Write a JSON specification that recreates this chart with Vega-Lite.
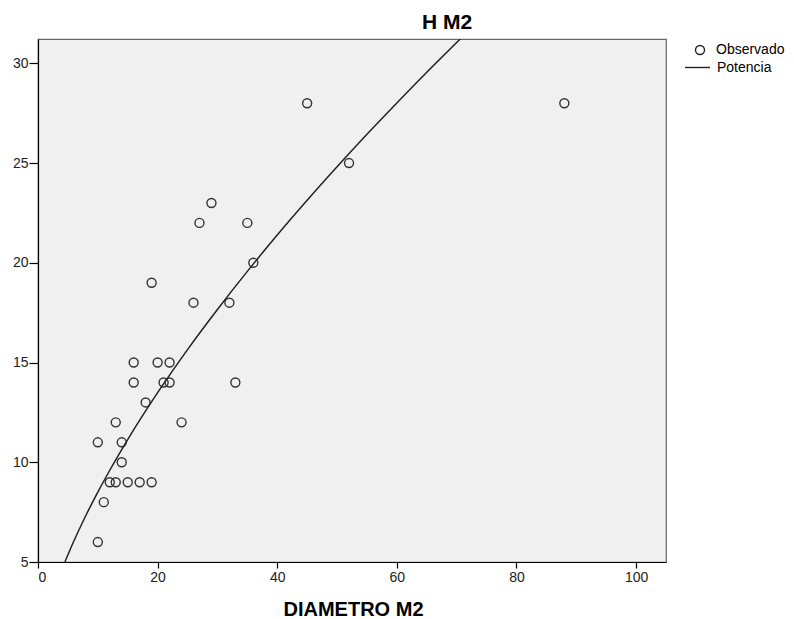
{
  "$schema": "https://vega.github.io/schema/vega-lite/v6.json",
  "width": 628,
  "height": 523,
  "autosize": "none",
  "padding": {"left": 38, "top": 39, "right": 128, "bottom": 57},
  "background": "white",
  "config": {
    "font": "Liberation Sans",
    "view": {"fill": "#f0f0f0", "stroke": "#666", "strokeWidth": 1.2},
    "axis": {"grid": false, "domainColor": "#000", "domainWidth": 1.2, "tickColor": "#000", "tickWidth": 1.2, "labelFontSize": 14, "labelColor": "#222", "labelFont": "Liberation Sans", "labelFontWeight": "normal"},
    "legend": {"padding": 0, "labelFontSize": 14, "labelColor": "#000", "labelFont": "Liberation Sans"}
  },
  "title": {"text": "H M2", "fontSize": 21, "fontWeight": "bold", "font": "Liberation Sans", "color": "#000", "anchor": "middle", "dx": 95, "offset": 6},
  "layer": [
    {
      "data": {"values": [
        {"d": 10, "h": 6, "serie": "Observado"},
        {"d": 11, "h": 8, "serie": "Observado"},
        {"d": 12, "h": 9, "serie": "Observado"},
        {"d": 13, "h": 9, "serie": "Observado"},
        {"d": 15, "h": 9, "serie": "Observado"},
        {"d": 17, "h": 9, "serie": "Observado"},
        {"d": 19, "h": 9, "serie": "Observado"},
        {"d": 14, "h": 10, "serie": "Observado"},
        {"d": 10, "h": 11, "serie": "Observado"},
        {"d": 14, "h": 11, "serie": "Observado"},
        {"d": 13, "h": 12, "serie": "Observado"},
        {"d": 24, "h": 12, "serie": "Observado"},
        {"d": 18, "h": 13, "serie": "Observado"},
        {"d": 16, "h": 14, "serie": "Observado"},
        {"d": 21, "h": 14, "serie": "Observado"},
        {"d": 22, "h": 14, "serie": "Observado"},
        {"d": 33, "h": 14, "serie": "Observado"},
        {"d": 16, "h": 15, "serie": "Observado"},
        {"d": 20, "h": 15, "serie": "Observado"},
        {"d": 22, "h": 15, "serie": "Observado"},
        {"d": 26, "h": 18, "serie": "Observado"},
        {"d": 32, "h": 18, "serie": "Observado"},
        {"d": 19, "h": 19, "serie": "Observado"},
        {"d": 36, "h": 20, "serie": "Observado"},
        {"d": 27, "h": 22, "serie": "Observado"},
        {"d": 35, "h": 22, "serie": "Observado"},
        {"d": 29, "h": 23, "serie": "Observado"},
        {"d": 52, "h": 25, "serie": "Observado"},
        {"d": 45, "h": 28, "serie": "Observado"},
        {"d": 88, "h": 28, "serie": "Observado"}
      ]},
      "mark": {"type": "point", "filled": false, "stroke": "#333", "strokeWidth": 1.4, "opacity": 1, "size": 81},
      "encoding": {
        "x": {"field": "d", "type": "quantitative", "title": "DIAMETRO M2",
          "scale": {"domain": [0, 105], "nice": false, "zero": false},
          "axis": {"values": [0, 20, 40, 60, 80, 100], "tickSize": 6, "labelPadding": 2, "titleFontSize": 20, "titleFontWeight": "bold", "titleColor": "#000", "titleBaseline": "alphabetic", "titleY": 53, "titleX": 315}},
        "y": {"field": "h", "type": "quantitative", "title": null,
          "scale": {"domain": [5, 31.22], "nice": false, "zero": false},
          "axis": {"values": [5, 10, 15, 20, 25, 30], "tickSize": 9, "labelPadding": 1}},
        "shape": {"field": "serie", "type": "nominal", "title": null,
          "scale": {"domain": ["Observado"], "range": ["circle"]},
          "legend": {"orient": "none", "legendX": 655, "legendY": 4, "symbolSize": 81, "symbolStrokeColor": "#222", "symbolFillColor": "transparent", "symbolStrokeWidth": 1.4, "labelOffset": 9, "symbolOffset": 0}}
      }
    },
    {
      "data": {"values": [
        {"d": 4.5, "h": 5.0, "modelo": "Potencia"},
        {"d": 6, "h": 6.05, "modelo": "Potencia"},
        {"d": 8, "h": 7.33, "modelo": "Potencia"},
        {"d": 10, "h": 8.5, "modelo": "Potencia"},
        {"d": 12, "h": 9.6, "modelo": "Potencia"},
        {"d": 15, "h": 11.14, "modelo": "Potencia"},
        {"d": 20, "h": 13.49, "modelo": "Potencia"},
        {"d": 25, "h": 15.65, "modelo": "Potencia"},
        {"d": 30, "h": 17.66, "modelo": "Potencia"},
        {"d": 35, "h": 19.57, "modelo": "Potencia"},
        {"d": 40, "h": 21.39, "modelo": "Potencia"},
        {"d": 45, "h": 23.13, "modelo": "Potencia"},
        {"d": 50, "h": 24.81, "modelo": "Potencia"},
        {"d": 55, "h": 26.44, "modelo": "Potencia"},
        {"d": 60, "h": 28.01, "modelo": "Potencia"},
        {"d": 65, "h": 29.55, "modelo": "Potencia"},
        {"d": 70.6, "h": 31.22, "modelo": "Potencia"}
      ]},
      "mark": {"type": "line", "strokeWidth": 1.5, "interpolate": "monotone", "clip": true},
      "encoding": {
        "x": {"field": "d", "type": "quantitative"},
        "y": {"field": "h", "type": "quantitative"},
        "color": {"field": "modelo", "type": "nominal", "title": null,
          "scale": {"domain": ["Potencia"], "range": ["#222"]},
          "legend": {"orient": "none", "legendX": 646, "legendY": 15, "symbolType": "stroke", "symbolSize": 625, "symbolStrokeWidth": 1.4, "labelOffset": 6, "symbolOffset": 0}}
      }
    }
  ]
}
